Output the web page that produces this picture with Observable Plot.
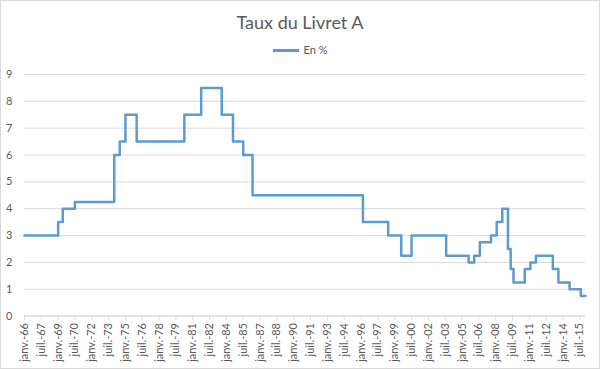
<!DOCTYPE html>
<html><head><meta charset="utf-8">
<script src="https://cdn.jsdelivr.net/npm/d3@7"></script>
<script src="https://cdn.jsdelivr.net/npm/@observablehq/plot@0.6"></script>
<style>
body{margin:0;background:#fff;}
#wrap{position:relative;width:600px;height:369px;box-sizing:border-box;border:1px solid #d9d9d9;font-family:Lato,"Open Sans",sans-serif;color:#595959;overflow:hidden;background:#fff}
#title{position:absolute;top:10px;left:0;width:100%;text-align:center;font-size:18px;line-height:22px}
#legend{position:absolute;top:42px;left:0;width:100%;display:flex;justify-content:center;align-items:center;font-size:11px;line-height:14px}
#legend .sw{display:inline-block;width:26px;height:3px;background:#5B9BD5;margin-right:5px}
#chart{position:absolute;left:-1px;top:59px}
</style></head>
<body>
<div id="wrap">
  <div id="title">Taux du Livret A</div>
  <div id="legend"><span class="sw"></span><span>En %</span></div>
  <div id="chart"></div>
</div>
<script>
const seriesName = "En %";
const changeDates = ["1966-01","1969-01","1969-06","1970-07","1974-01","1974-07","1975-01","1976-01",
  "1980-04","1981-10","1983-08","1984-08","1985-07","1986-05","1996-03","1998-06","1999-08","2000-07",
  "2003-08","2005-08","2006-02","2006-08","2007-08","2008-02","2008-08","2009-02","2009-05","2009-08",
  "2010-08","2011-02","2011-08","2013-02","2013-08","2014-08","2015-08","2016-01"];
const rates = [3, 3.5, 4, 4.25, 6, 6.5, 7.5, 6.5,
  7.5, 8.5, 7.5, 6.5, 6, 4.5, 3.5, 3, 2.25, 3,
  2.25, 2, 2.25, 2.75, 3, 3.5, 4, 2.5, 1.75, 1.25,
  1.75, 2, 2.25, 1.75, 1.25, 1, 0.75, 0.75];
const tickLabels = ["janv.-66","juil.-67","janv.-69","juil.-70","janv.-72","juil.-73","janv.-75","juil.-76",
  "janv.-78","juil.-79","janv.-81","juil.-82","janv.-84","juil.-85","janv.-87","juil.-88","janv.-90","juil.-91",
  "janv.-93","juil.-94","janv.-96","juil.-97","janv.-99","juil.-00","janv.-02","juil.-03","janv.-05","juil.-06",
  "janv.-08","juil.-09","janv.-11","juil.-12","janv.-14","juil.-15"];
const yTicks = [0,1,2,3,4,5,6,7,8,9];

const parseYM = s => { const [y,m] = s.split("-").map(Number); return new Date(Date.UTC(y, m-1, 1)); };
const parseLabel = s => {
  const [mo, yy] = s.split(".-");
  const n = Number(yy);
  return new Date(Date.UTC(n < 50 ? 2000+n : 1900+n, mo === "janv" ? 0 : 6, 1));
};
const data = changeDates.map((d,i) => ({date: parseYM(d), rate: rates[i]}));
const tickDates = tickLabels.map(parseLabel);
const labelByTime = new Map(tickDates.map((d,i) => [+d, tickLabels[i]]));

const chart = Plot.plot({
  width: 600, height: 309,
  marginTop: 14, marginBottom: 53, marginLeft: 24, marginRight: 14,
  style: {fontFamily: "Lato, 'Open Sans', sans-serif", color: "#595959", background: "transparent"},
  x: {type: "utc", domain: [parseYM(changeDates[0]), parseYM(changeDates[changeDates.length-1])]},
  y: {domain: [0, 9]},
  marks: [
    Plot.gridY(yTicks, {stroke: "#d9d9d9", strokeOpacity: 1, strokeWidth: 1}),
    Plot.ruleY([0], {stroke: "#d9d9d9", strokeWidth: 1}),
    Plot.axisY(yTicks, {tickSize: 0, tickPadding: 12, fontSize: 11, fill: "#595959", label: null}),
    Plot.axisX(tickDates, {tickSize: 4, stroke: "#d9d9d9", tickRotate: -90, textAnchor: "end", tickPadding: 3,
      fontSize: 11, fill: "#595959", label: null, tickFormat: d => labelByTime.get(+d)}),
    Plot.line(data, {x: "date", y: "rate", curve: "step-after", stroke: "#5B9BD5", strokeWidth: 2.5})
  ]
});
document.getElementById("chart").appendChild(chart);
</script>
</body></html>
